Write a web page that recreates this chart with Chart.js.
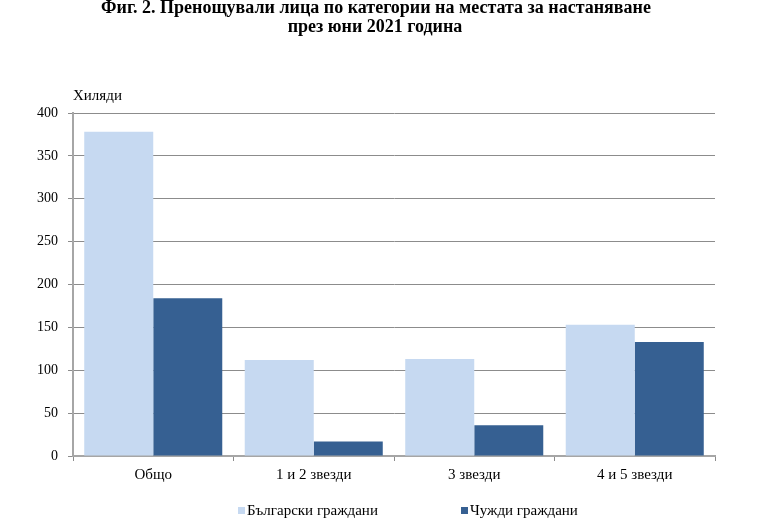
<!DOCTYPE html>
<html><head><meta charset="utf-8">
<script src="https://cdn.jsdelivr.net/npm/chart.js@4/dist/chart.umd.min.js"></script>
<style>html,body{margin:0;padding:0;background:#fff}#wrap{width:768px;height:519px}</style>
</head><body><div id="wrap"><canvas id="c" width="768" height="519"></canvas></div>
<script>
const categories = ['Общо', '1 и 2 звезди', '3 звезди', '4 и 5 звезди'];
const bulgarians = [378, 112, 113, 153];
const foreigners = [184, 17, 36, 133];
const seriesNames = ['Български граждани', 'Чужди граждани'];
const yTicks = [0, 50, 100, 150, 200, 250, 300, 350, 400];
const titleLines = ['Фиг. 2. Пренощували лица по категории на местата за настаняване', 'през юни 2021 година'];
const yUnit = 'Хиляди';

const FONT = "'Liberation Serif', 'Times New Roman', serif";
const GRID = '#8c8c8c';

const extras = {
  id: 'extras',
  afterDraw(chart) {
    const ctx = chart.ctx, area = chart.chartArea;
    ctx.save();
    ctx.fillStyle = '#000';
    // title
    ctx.font = 'bold 18px ' + FONT;
    ctx.textAlign = 'center';
    ctx.textBaseline = 'middle';
    ctx.fillText(titleLines[0], 376, 8);
    ctx.fillText(titleLines[1], 375, 27);
    // unit label
    ctx.font = '15px ' + FONT;
    ctx.textAlign = 'left';
    ctx.fillText(yUnit, area.left, area.top - 17);
    // legend
    const y = 511;
    const starts = [238, 461];
    chart.data.datasets.forEach((ds, i) => {
      ctx.fillStyle = ds.backgroundColor;
      ctx.fillRect(starts[i], y - 4, 7, 7);
      ctx.fillStyle = '#000';
      ctx.fillText(ds.label, starts[i] + 9, y);
    });
    ctx.restore();
  }
};

new Chart(document.getElementById('c'), {
  type: 'bar',
  data: {
    labels: categories,
    datasets: [
      { label: seriesNames[0], data: bulgarians, backgroundColor: '#C6D9F1', borderWidth: 0 },
      { label: seriesNames[1], data: foreigners, backgroundColor: '#366092', borderWidth: 0 }
    ]
  },
  options: {
    responsive: false,
    animation: false,
    devicePixelRatio: 1,
    layout: { padding: { left: 0, right: 53, top: 113, bottom: 32 } },
    plugins: {
      legend: { display: false },
      tooltip: { enabled: false },
      title: { display: false }
    },
    datasets: { bar: { categoryPercentage: 0.86, barPercentage: 1.0 } },
    scales: {
      x: {
        offset: true,
        grid: { display: true, drawOnChartArea: false, drawTicks: true, tickLength: 5, color: GRID, offset: true },
        border: { display: true, color: '#a6a6a6', width: 2 },
        ticks: { color: '#000', font: { family: FONT, size: 15 }, padding: 5 },
        afterFit(s) { s.height = 519 - 456 - 32; }
      },
      y: {
        min: 0, max: 400,
        afterBuildTicks(s) { s.ticks = yTicks.map(v => ({ value: v })); },
        grid: { color: GRID, drawTicks: true, tickLength: 5 },
        border: { display: true, color: '#a6a6a6', width: 2 },
        ticks: { color: '#000', font: { family: FONT, size: 14 }, padding: 10 },
        afterFit(s) { s.width = 73; }
      }
    }
  },
  plugins: [extras]
});
</script></body></html>
